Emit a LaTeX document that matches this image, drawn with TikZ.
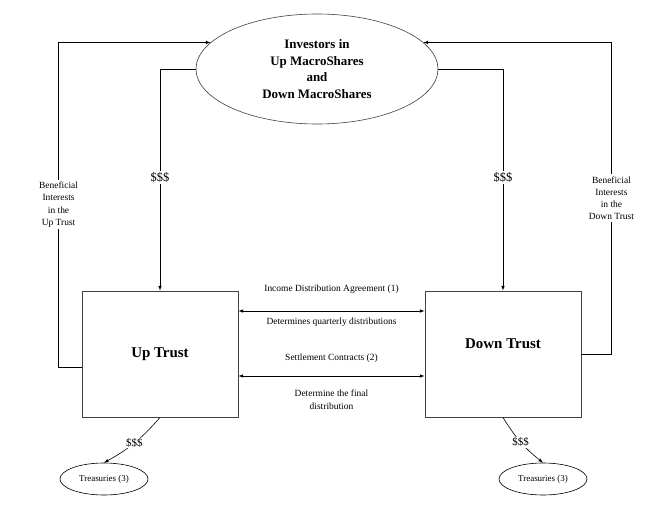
\documentclass[tikz,border=0pt]{standalone}
\usepackage{fontspec}
\setmainfont{Liberation Serif}
\usetikzlibrary{arrows,shapes}
\tikzstyle{investor}=[ellipse,draw=black!75,minimum width=242bp,minimum height=110bp,inner sep=0pt,align=center,font=\bfseries\fontsize{13}{16.5}\selectfont]
\tikzstyle{trust}=[rectangle,draw=black!75,line width=0.9bp,minimum width=156bp,minimum height=126bp,inner sep=0pt,font=\bfseries\fontsize{15}{18}\selectfont]
\tikzstyle{trustlabel}=[inner sep=0pt,font=\bfseries\fontsize{15}{18}\selectfont]
\tikzstyle{treasury}=[ellipse,draw,minimum width=88bp,minimum height=32bp,inner sep=0pt,font=\fontsize{9}{11}\selectfont]
\tikzstyle{note}=[align=center,inner sep=0pt,font=\fontsize{9.5}{12.3}\selectfont]
\tikzstyle{cash}=[fill=white,inner sep=1.5bp,font=\fontsize{12.5}{14}\selectfont]
\tikzstyle{flow} = [draw,-latex]
\tikzstyle{contract} = [draw,latex-latex]

\begin{document}
\begin{tikzpicture}[x=1bp,y=-1bp,line width=0.6bp]
    \useasboundingbox (0,0) rectangle (671,521);
    % First we draw the investors and the two trusts
    \node[investor] (investors) at (317,69) {Investors in\\Up MacroShares\\and\\Down MacroShares};
    \node[trust] (up) at (160,354) {Up Trust};
    \node[trust,label={[trustlabel,yshift=10bp]center:Down Trust}] (down) at (503,354) {};
    % Treasuries below each trust
    \foreach \pos/\name in {{(104,479)/tup}, {(543,479)/tdown}}
        \node[treasury] (\name) at \pos {Treasuries (3)};
    % Money from the investors into the trusts
    \path[flow] (investors.west) -| node[cash,pos=0.745] {\$\$\$} (up.north);
    \path[flow] (investors.east) -| node[cash,pos=0.745] {\$\$\$} (down.north);
    % Beneficial interests back to the investors
    \path[flow] ([yshift=-13bp]up.west) -- ++(-23,0) |- node[note,fill=white,inner sep=2bp,pos=0.25] {Beneficial\\Interests\\in the\\Up Trust} (investors.166);
    \path[flow] (down.east) -- ++(30,0) |- node[note,fill=white,inner sep=2bp,pos=0.25] {Beneficial\\Interests\\in the\\Down Trust} (investors.14);
    % Agreements between the two trusts
    \path[contract] ([yshift=43bp]up.east) -- node[note,above=17bp] {Income Distribution Agreement (1)} node[note,below=7bp] {Determines quarterly distributions} ([yshift=43bp]down.west);
    \path[contract] ([yshift=-22bp]up.east) -- node[note,above=13bp] {Settlement Contracts (2)} node[note,below=14bp] {Determine the final\\distribution} ([yshift=-22bp]down.west);
    % Each trust holds treasuries
    \path[flow] (up.south) to[bend left=10] node[cash,font=\fontsize{11}{12}\selectfont,inner sep=1bp] {\$\$\$} (tup.north);
    \path[flow] (down.south) to[bend right=10] node[cash,font=\fontsize{11}{12}\selectfont,inner sep=1bp] {\$\$\$} (tdown.north);
\end{tikzpicture}
\end{document}
